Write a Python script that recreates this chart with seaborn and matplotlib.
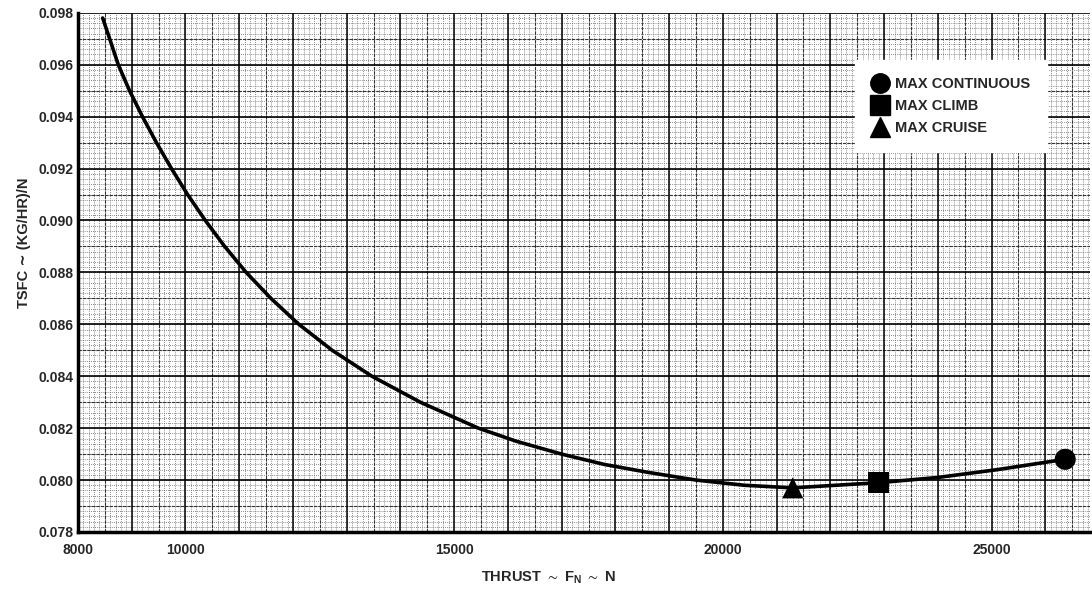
import numpy as np
import pandas as pd
import matplotlib
matplotlib.use("Agg")
import matplotlib.pyplot as plt
from matplotlib.lines import Line2D
from matplotlib.ticker import FixedLocator
import seaborn as sns

# TSFC curve versus thrust
thrust = [8460, 8590, 8750, 8960, 9200, 9460, 9740, 10040, 10370, 10730,
          11130, 11590, 12110, 12730, 13470, 14370, 15450, 16150, 17000,
          17800, 18600, 19500, 20400, 21300, 22100, 22900, 24000, 25100, 26370]
tsfc = [0.0978, 0.0970, 0.0960, 0.0950, 0.0940, 0.0930, 0.0920, 0.0910,
        0.0900, 0.0890, 0.0880, 0.0870, 0.0860, 0.0850, 0.0840, 0.0830,
        0.0820, 0.0815, 0.0810, 0.0806, 0.0803, 0.0800, 0.0798, 0.0797,
        0.0798, 0.0799, 0.0801, 0.0804, 0.0808]

# Rating points
ratings = ["MAX CONTINUOUS", "MAX CLIMB", "MAX CRUISE"]
rating_thrust = [26370, 22900, 21300]
rating_tsfc = [0.0808, 0.0799, 0.0797]
rating_markers = ["o", "s", "^"]

x_ticks = [8000, 10000, 15000, 20000, 25000]
y_ticks = [0.078, 0.080, 0.082, 0.084, 0.086, 0.088, 0.090, 0.092, 0.094, 0.096, 0.098]

sns.set_theme(style="white")
plt.rcParams["font.family"] = ["Liberation Sans", "DejaVu Sans"]
plt.rcParams["mathtext.fontset"] = "custom"
plt.rcParams["mathtext.bf"] = "Liberation Sans:bold"
plt.rcParams["mathtext.rm"] = "Liberation Sans:bold"
plt.rcParams["mathtext.fallback"] = "stixsans"

fig = plt.figure(figsize=(10.92, 5.94), dpi=100)
ax = fig.add_axes([0.0714, 0.1044, 0.9267, 0.874])

ax.set_xlim(8000, 26830)
ax.set_ylim(0.078, 0.098)

# graph-paper grid: fine dotted, medium and heavy rulings
for xv in np.arange(8100, 26900, 100):
    ax.axvline(xv, color="#666666", lw=0.6, ls=(0, (1, 1.5)), zorder=0)
for yv in np.arange(0.0782, 0.0980, 0.0002):
    ax.axhline(yv, color="#666666", lw=0.6, ls=(0, (1, 1.5)), zorder=0)
for xv in np.arange(8500, 26900, 1000):
    ax.axvline(xv, color="#333333", lw=0.8, ls=(0, (3, 1)), zorder=0)
for yv in np.arange(0.079, 0.098, 0.002):
    ax.axhline(yv, color="#333333", lw=0.8, ls=(0, (3, 1)), zorder=0)
for xv in np.arange(9000, 26900, 1000):
    ax.axvline(xv, color="black", lw=1.1, zorder=0)
for yv in np.arange(0.080, 0.0985, 0.002):
    ax.axhline(yv, color="black", lw=1.2, zorder=0)

curve = pd.DataFrame({"thrust": thrust, "tsfc": tsfc})
sns.lineplot(data=curve, x="thrust", y="tsfc", color="black", lw=2.6,
             ax=ax, zorder=3)

pts = pd.DataFrame({"thrust": rating_thrust, "tsfc": rating_tsfc, "rating": ratings})
sns.scatterplot(data=pts, x="thrust", y="tsfc", style="rating",
                markers=dict(zip(ratings, rating_markers)), color="black",
                s=230, edgecolor="black", linewidth=0, ax=ax, zorder=4,
                legend=False)

handles = [Line2D([], [], marker=m, color="black", ls="none", markersize=14)
           for m in rating_markers]
leg = ax.legend(handles, ratings, loc="upper left", bbox_to_anchor=(0.768, 0.909),
                frameon=True, fancybox=False, facecolor="white", edgecolor="white",
                framealpha=1, prop={"weight": "bold", "size": 10.5},
                handletextpad=0.5, labelspacing=0.55, borderpad=1.15,
                handlelength=1.1, borderaxespad=0)
leg.set_zorder(5)

ax.xaxis.set_major_locator(FixedLocator(x_ticks))
ax.yaxis.set_major_locator(FixedLocator(y_ticks))
ax.set_xticklabels([str(v) for v in x_ticks], fontsize=10, fontweight="bold")
ax.set_yticklabels([f"{v:.3f}" for v in y_ticks], fontsize=10, fontweight="bold")
ax.tick_params(axis="y", length=0, pad=3)
ax.tick_params(axis="x", length=0, pad=8)

for side in ["top", "right"]:
    ax.spines[side].set_visible(False)
for side in ["left", "bottom"]:
    ax.spines[side].set_linewidth(2.5)
    ax.spines[side].set_color("black")

ax.set_xlabel("THRUST $\\sim$ F$_{\\mathbf{N}}$ $\\sim$ N", fontsize=10.5, fontweight="bold")
ax.xaxis.set_label_coords(0.465, -0.072)
ax.set_ylabel("TSFC \u223c (KG/HR)/N", fontsize=10.5, fontweight="bold")
ax.yaxis.set_label_coords(-0.046, 0.557)

fig.savefig("out.png", dpi=100)
